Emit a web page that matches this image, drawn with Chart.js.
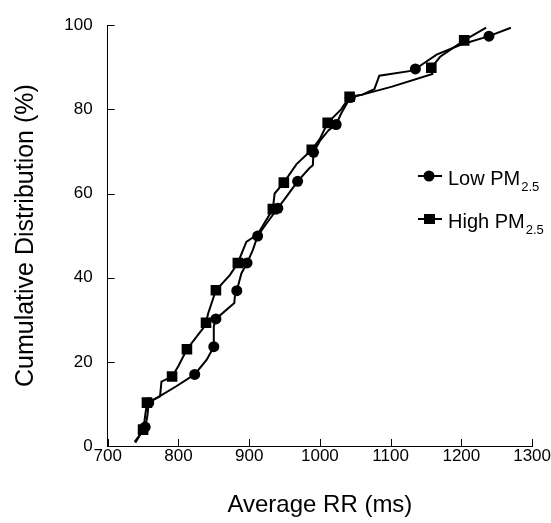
<!DOCTYPE html>
<html lang="en">
<head>
<meta charset="UTF-8">
<title>Cumulative Distribution of Average RR</title>
<script src="https://cdn.jsdelivr.net/npm/chart.js"></script>
<style>
    html, body { margin: 0; padding: 0; background: #fff; }
    #chart-container { width: 551px; height: 523px; position: relative; }
</style>
</head>
<body>
<div id="chart-container"><canvas id="rrChart"></canvas></div>
<script>
// Low PM2.5 curve: average RR (ms) vs cumulative %
const lowRR  = [739, 747, 753, 756, 758, 769, 797, 823, 840, 850, 850, 853, 879, 880, 882.5, 889, 897, 905, 912, 925,
                940.5, 952.5, 968.5, 985, 990, 991, 1000, 1012, 1023, 1030, 1043, 1060, 1077, 1084, 1131, 1135, 1165, 1200, 1239, 1270];
const lowPct = [0.8, 3, 4.5, 7, 10.3, 11.4, 14.2, 17, 20.5, 23.6, 28.4, 30.2, 34, 36, 36.9, 41, 43.5, 46.5, 49.9, 53,
                56.5, 59.2, 62.9, 66, 66.7, 69.8, 72.5, 75, 76.4, 79, 82.8, 83.5, 84.8, 88, 89.2, 89.6, 93, 95.4, 97.4, 99.4];
const lowMarkRR  = [753, 758, 823, 850, 853, 882.5, 897, 912, 940.5, 968.5, 991, 1023, 1043, 1135, 1239];
const lowMarkPct = [4.5, 10.3, 17, 23.6, 30.2, 36.9, 43.5, 49.9, 56.5, 62.9, 69.8, 76.4, 82.8, 89.6, 97.4];

// High PM2.5 curve
const highRR  = [738, 745, 750, 752, 755.5, 774, 776, 791, 800, 812, 835, 839, 842, 853, 872.7, 884, 896, 912, 933.5, 936,
                 949, 967, 988.5, 1000, 1011, 1030, 1042, 1060, 1102, 1159, 1157.5, 1170, 1204, 1235];
const highPct = [1, 2.5, 3.9, 6, 10.3, 11.8, 15.3, 16.5, 19, 23, 28, 29.3, 31.5, 37, 40.6, 43.5, 48.5, 50.3, 56.3, 60,
                 62.6, 67, 70.4, 73, 76.8, 80, 83, 83.5, 85.4, 88.4, 89.9, 92.5, 96.4, 99.4];
const highMarkRR  = [750, 755.5, 791, 812, 839, 853, 884, 933.5, 949, 988.5, 1011, 1042, 1157.5, 1204];
const highMarkPct = [3.9, 10.3, 16.5, 23, 29.3, 37, 43.5, 56.3, 62.6, 70.4, 76.8, 83, 89.9, 96.4];

const xRange = [700, 1300];
const yRange = [0, 100];

const FONT = "'Liberation Sans', Arial, Helvetica, sans-serif";

function toPoints(xs, ys) {
    return xs.map((x, i) => ({ x: x, y: ys[i] }));
}

// small tick marks pointing into the plot
const innerTicks = {
    id: 'innerTicks',
    afterDraw(chart) {
        const ctx = chart.ctx;
        const { x, y } = chart.scales;
        const len = 7;
        ctx.save();
        ctx.strokeStyle = '#000';
        ctx.lineWidth = 1;
        ctx.beginPath();
        x.ticks.forEach(t => {
            const px = Math.round(x.getPixelForValue(t.value)) + 0.5;
            ctx.moveTo(px, y.bottom);
            ctx.lineTo(px, y.bottom - len);
        });
        y.ticks.forEach(t => {
            const py = Math.round(y.getPixelForValue(t.value)) + 0.5;
            ctx.moveTo(x.left, py);
            ctx.lineTo(x.left + len, py);
        });
        ctx.stroke();
        ctx.restore();
    }
};

// legend with subscripts, drawn inside the plot
const pmLegend = {
    id: 'pmLegend',
    afterDraw(chart) {
        const ctx = chart.ctx;
        const items = [
            { label: 'Low PM', style: 'circle', y: 176 },
            { label: 'High PM', style: 'rect', y: 219 }
        ];
        ctx.save();
        ctx.fillStyle = '#000';
        ctx.strokeStyle = '#000';
        items.forEach(it => {
            ctx.lineWidth = 2;
            ctx.beginPath();
            ctx.moveTo(418, it.y);
            ctx.lineTo(442, it.y);
            ctx.stroke();
            ctx.beginPath();
            if (it.style === 'circle') {
                ctx.arc(429, it.y, 5.5, 0, Math.PI * 2);
            } else {
                ctx.rect(424, it.y - 5, 11, 10);
            }
            ctx.fill();
            ctx.font = '20px ' + FONT;
            ctx.textBaseline = 'alphabetic';
            ctx.textAlign = 'left';
            ctx.fillText(it.label, 448, it.y + 9);
            const w = ctx.measureText(it.label).width;
            ctx.font = '13px ' + FONT;
            ctx.fillText('2.5', 448 + w + 1, it.y + 15);
        });
        ctx.restore();
    }
};

const ctx = document.getElementById('rrChart').getContext('2d');
new Chart(ctx, {
    type: 'scatter',
    data: {
        datasets: [
            {
                label: 'Low PM2.5 markers',
                data: toPoints(lowMarkRR, lowMarkPct),
                pointStyle: 'circle',
                pointRadius: 5.5,
                backgroundColor: '#000',
                borderColor: '#000',
                borderWidth: 0
            },
            {
                label: 'High PM2.5 markers',
                data: toPoints(highMarkRR, highMarkPct),
                pointStyle: 'rect',
                pointRadius: 7.5,
                backgroundColor: '#000',
                borderColor: '#000',
                borderWidth: 0
            },
            {
                label: 'Low PM2.5',
                data: toPoints(lowRR, lowPct),
                showLine: true,
                pointRadius: 0,
                borderColor: '#000',
                borderWidth: 2,
                tension: 0
            },
            {
                label: 'High PM2.5',
                data: toPoints(highRR, highPct),
                showLine: true,
                pointRadius: 0,
                borderColor: '#000',
                borderWidth: 2,
                tension: 0
            }
        ]
    },
    options: {
        responsive: true,
        maintainAspectRatio: false,
        animation: false,
        layout: { padding: { top: 16, right: 18, left: 0, bottom: 0 } },
        plugins: {
            legend: { display: false },
            tooltip: { enabled: false }
        },
        scales: {
            x: {
                type: 'linear',
                min: xRange[0],
                max: xRange[1],
                afterFit: s => { s.height = 77; },
                ticks: {
                    stepSize: 100,
                    color: '#000',
                    font: { family: FONT, size: 17 },
                    padding: 0,
                    maxRotation: 0,
                    callback: v => String(v)
                },
                grid: { drawOnChartArea: false, drawTicks: false },
                border: { color: '#000', width: 1 },
                title: {
                    display: true,
                    text: 'Average RR (ms)',
                    color: '#000',
                    font: { family: FONT, size: 24 },
                    padding: { top: 0, bottom: 3 }
                }
            },
            y: {
                min: yRange[0],
                max: yRange[1],
                afterFit: s => { s.width = 107.7; },
                ticks: {
                    stepSize: 20,
                    color: '#000',
                    font: { family: FONT, size: 17 },
                    padding: 15,
                    callback: v => String(v)
                },
                grid: { drawOnChartArea: false, drawTicks: false },
                border: { color: '#000', width: 1 },
                title: {
                    display: true,
                    text: 'Cumulative Distribution (%)',
                    color: '#000',
                    font: { family: FONT, size: 25 },
                    padding: { top: 11, bottom: 0 }
                }
            }
        }
    },
    plugins: [innerTicks, pmLegend]
});
</script>
</body>
</html>
